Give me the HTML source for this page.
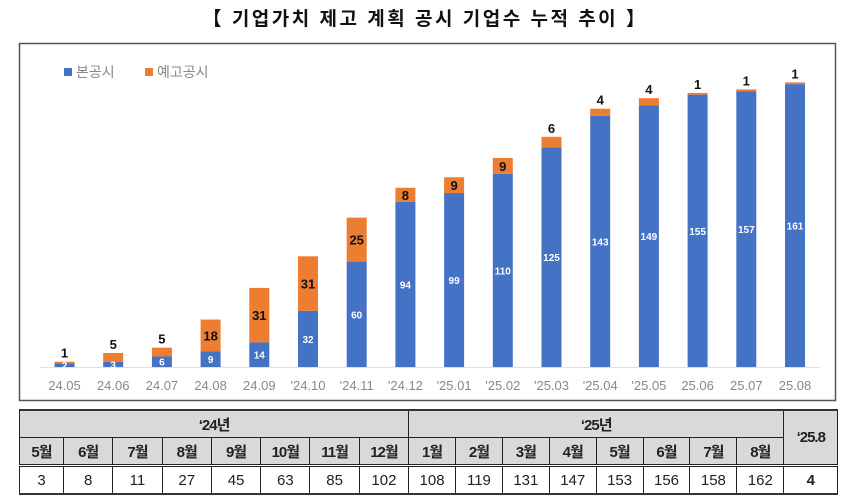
<!DOCTYPE html>
<html><head><meta charset="utf-8"><style>
body{margin:0;background:#fff;width:850px;height:500px;overflow:hidden;font-family:"Liberation Sans","Noto Sans CJK KR",sans-serif}
table{position:absolute;left:19px;top:409px;border-collapse:collapse;width:818px;table-layout:fixed;border-top:2px solid #333;border-bottom:2px solid #333}
td{border:1px solid #222;text-align:center;font-size:15px;padding:0;color:#222;overflow:hidden;white-space:nowrap}
.h td{background:#d9d9d9;font-weight:bold;height:26px;letter-spacing:-1px}
.r td{height:26px;border-top:3px double #222}
</style></head><body>
<svg width="850" height="405" style="position:absolute;left:0;top:0" font-family="Liberation Sans, Noto Sans CJK KR, sans-serif">
<text x="425" y="25" text-anchor="middle" font-size="19" font-weight="bold" fill="#111" letter-spacing="2.5">【 기업가치 제고 계획 공시 기업수 누적 추이 】</text>
<rect x="19.5" y="43.5" width="816" height="357" fill="#fff" stroke="#555" stroke-width="1.5"/>
<rect x="64" y="68" width="8" height="8" fill="#4472c4"/><text x="76" y="77" font-size="14" fill="#888">본공시</text>
<rect x="145" y="68" width="8" height="8" fill="#ed7d31"/><text x="157" y="77" font-size="14" fill="#888">예고공시</text>
<line x1="40" y1="367.5" x2="820" y2="367.5" stroke="#e0e0e0"/>
<g id="bars"></g>
</svg>
<table>
<colgroup><col style="width:44px"><col span="7" style="width:49.3px"><col span="8" style="width:46.9px"><col style="width:54px"></colgroup>
<tr class="h"><td colspan="8">‘24년</td><td colspan="8">‘25년</td><td rowspan="2">‘25.8</td></tr>
<tr class="h"><td>5월</td><td>6월</td><td>7월</td><td>8월</td><td>9월</td><td>10월</td><td>11월</td><td>12월</td><td>1월</td><td>2월</td><td>3월</td><td>4월</td><td>5월</td><td>6월</td><td>7월</td><td>8월</td></tr>
<tr class="r"><td>3</td><td>8</td><td>11</td><td>27</td><td>45</td><td>63</td><td>85</td><td>102</td><td>108</td><td>119</td><td>131</td><td>147</td><td>153</td><td>156</td><td>158</td><td>162</td><td style="font-weight:bold">4</td></tr>
</table>
<script>
var b=[2,3,6,9,14,32,60,94,99,110,125,143,149,155,157,161],o=[1,5,5,18,31,31,25,8,9,9,6,4,4,1,1,1];
var L=["24.05","24.06","24.07","24.08","24.09","'24.10","'24.11","'24.12","'25.01","'25.02","'25.03","'25.04","'25.05","25.06","25.07","25.08"];
var s="",k=1.757,base=367;
for(var i=0;i<16;i++){var c=64.5+i*48.7,x=c-10,hb=b[i]*k,ho=o[i]*k,tb=base-hb,to=tb-ho;
s+='<rect x="'+x+'" y="'+tb+'" width="20" height="'+hb+'" fill="#4472c4"/>';
s+='<rect x="'+x+'" y="'+to+'" width="20" height="'+ho+'" fill="#ed7d31"/>';
s+='<text x="'+c+'" y="'+(tb+hb/2+4)+'" text-anchor="middle" font-size="10" font-weight="bold" fill="#fff">'+b[i]+'</text>';
var oy=ho>12?to+ho/2+5:to-4;
s+='<text x="'+c+'" y="'+oy+'" text-anchor="middle" font-size="13" font-weight="bold" fill="#111">'+o[i]+'</text>';
s+='<text x="'+c+'" y="390" text-anchor="middle" font-size="13" fill="#888">'+L[i]+'</text>';}
document.getElementById("bars").innerHTML=s;
</script>
</body></html>
